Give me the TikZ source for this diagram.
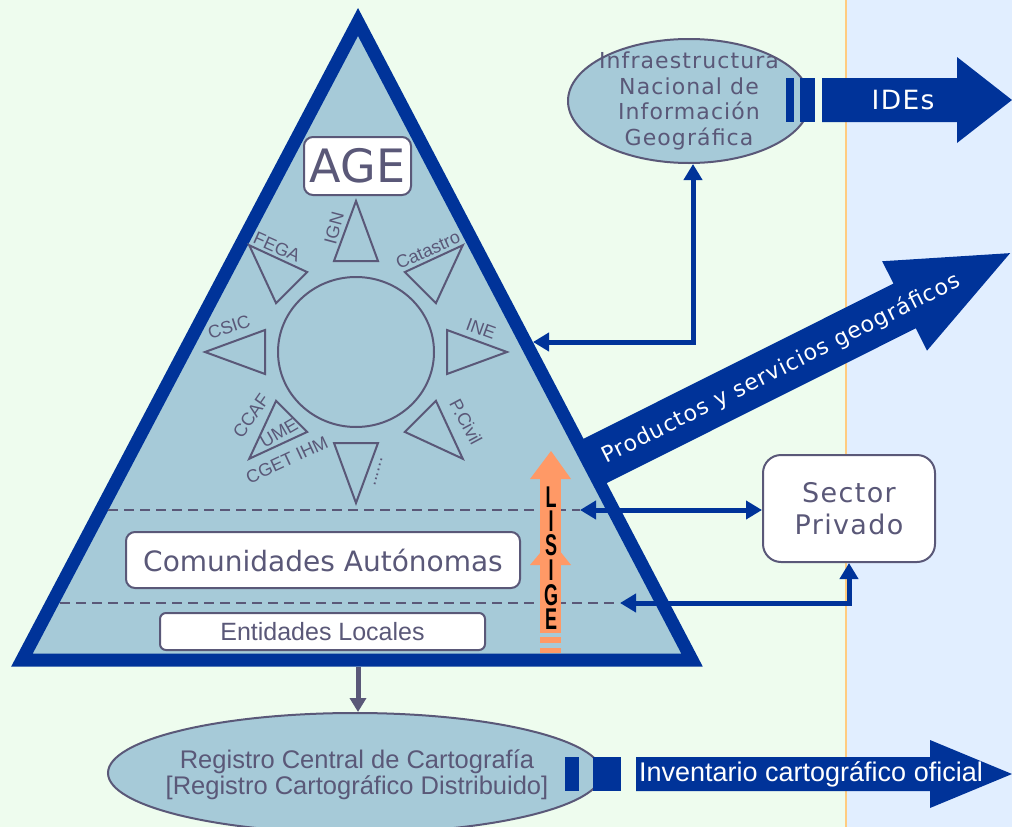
\documentclass[tikz,border=0pt]{standalone}
\usepackage{fontspec}
\setmainfont{DejaVu Sans}
\newfontfamily\wfont[LetterSpace=5]{DejaVu Sans}
\newfontfamily\nfont{Liberation Sans}
\newfontfamily\lfont[FakeStretch=0.6]{Liberation Sans}
\usetikzlibrary{arrows.meta,shapes.geometric}
\definecolor{bgL}{RGB}{238,252,238}
\definecolor{bgR}{RGB}{225,238,255}
\definecolor{sepc}{RGB}{255,204,128}
\definecolor{tfill}{RGB}{166,202,216}
\definecolor{dblue}{RGB}{0,51,153}
\definecolor{tgray}{RGB}{90,88,120}
\definecolor{orng}{RGB}{255,153,102}
\begin{document}
\begin{tikzpicture}[x=1pt,y=-1pt,
  box/.style={draw=tgray, line width=2pt, fill=white, rounded corners=9pt, inner sep=0pt, text=tgray, align=center},
  oval/.style={ellipse, draw=tgray, line width=2pt, fill=tfill, inner sep=0pt},
  otext/.style={text=tgray, align=center, inner sep=0pt},
  blink/.style={draw=dblue, line width=5pt, {Triangle[length=16pt,width=18pt]}-{Triangle[length=16pt,width=18pt]}},
  lab/.style={text=tgray, inner sep=0pt, font={\nfont\fontsize{18}{18}\selectfont}},
  dashline/.style={draw=tgray, line width=2.5pt, dash pattern=on 10pt off 6pt},
  wtext/.style={text=white, inner sep=0pt},
  lis/.style={inner sep=0pt, text=black, font={\lfont\bfseries\fontsize{30}{30}\selectfont}}
]
\useasboundingbox (0,0) rectangle (1012,827);
\clip (0,0) rectangle (1012,827);
% backgrounds
\fill[bgL] (0,0) rectangle (846,827);
\fill[bgR] (846,0) rectangle (1012,827);
\draw[sepc, line width=2pt] (846,0) -- (846,827);

% Productos arrow
\fill[dblue, shift={(589,464)}, rotate=26.6] (-8,-25) -- (353,-25) -- (353,-50) -- (471,0) -- (353,50) -- (353,25) -- (-8,25) -- cycle;
\node[wtext, rotate=26.6, font={\wfont\fontsize{22}{22}\selectfont}] (prod) at (781,369) {Productos y servicios geográficos};

% main triangle
\draw[dblue, line width=13pt, fill=tfill, line join=miter, miter limit=10] (358,22) -- (692,660) -- (22,660) -- cycle;

% sun
\node[ellipse, draw=tgray, line width=2pt, minimum width=156pt, minimum height=150pt, inner sep=0pt] (sun) at (356,352) {};
\foreach \a in {0,45,...,315}
  \draw[tgray, line width=2pt, shift={(sun.center)}, rotate=\a] (151,0) -- (91,22) -- (91,-22) -- cycle;
\node[lab, rotate=75] (lign) at (334,228) {IGN};
\node[lab, rotate=-24] (lfega) at (277,247) {FEGA};
\node[lab, rotate=24] (lcat) at (428,250) {Catastro};
\node[lab, rotate=-20] (line) at (481,329) {INE};
\node[lab, rotate=18] (lcsic) at (229,327) {CSIC};
\node[lab, rotate=-62] (lpc) at (466,422) {P.Civil};
\node[lab, rotate=55] (lccaf) at (251,416) {CCAF};
\node[lab, rotate=30] (lume) at (279,433) {UME};
\node[lab, rotate=25] (lcget) at (287,460) {CGET IHM};
\node[lab, rotate=75] (ldots) at (378,472) {......};

% boxes
\node[box, minimum width=107pt, minimum height=58pt, font={\fontsize{46}{46}\selectfont}] (age) at (357.5,166) {AGE};
\node[box, minimum width=394pt, minimum height=56pt, font={\fontsize{28}{28}\selectfont}] (ca) at (323,560) {Comunidades Autónomas};
\node[box, rounded corners=6pt, minimum width=325pt, minimum height=37pt, font={\nfont\fontsize{25}{25}\selectfont}] (el) at (322.5,631.5) {Entidades Locales};

% dashed separators
\coordinate (d1) at (580,510);
\coordinate (d1l) at (108,510);
\coordinate (d2) at (620,603);
\coordinate (d2l) at (60,603);
\draw[dashline] (d1l) -- (d1);
\draw[dashline] (d2l) -- (d2);

% LISIGE arrow
\fill[orng] (540,479) rectangle (561,633);
\fill[orng] (530,479) -- (551,451) -- (571,479) -- cycle;
\fill[orng] (530,565) -- (551,540) -- (571,565) -- cycle;
\fill[orng] (540,637) rectangle (561,643);
\fill[orng] (540,648) rectangle (561,653);
\foreach \l/\y in {L/497,I/521,S/545,I/570,G/595,E/619}
  \node[lis] (lis\y) at (551,\y) {\l};

% INIG
\node[oval, minimum width=242pt, minimum height=124pt] (inig) at (689,101) {};
\node[otext, font={\wfont\fontsize{22}{25.5}\selectfont}] (inigt) at (inig.center) {Infraestructura\\Nacional de\\Información\\Geográfica};
\fill[dblue] (786,78) rectangle (794,122);
\fill[dblue] (800,78) rectangle (815,122);
\fill[dblue] (822,78) -- (957,78) -- (957,57) -- (1012,100) -- (957,143) -- (957,122) -- (822,122) -- cycle;
\node[wtext, font={\wfont\fontsize{26.5}{26.5}\selectfont}] (ides) at (903,100) {IDEs};

% Sector privado
\node[box, rounded corners=18pt, minimum width=172pt, minimum height=107pt, font={\wfont\fontsize{27}{32}\selectfont}] (sp) at (849,508.5) {Sector\\Privado};

% connectors
\coordinate (tr) at (533,342);
\draw[blink] (tr) -| ([xshift=4pt]inig.south);
\draw[blink] (d1) -- (d1 -| sp.west);
\draw[blink] (d2) -| (sp.south);

% Registro
\node[oval, minimum width=494pt, minimum height=120pt] (rcc) at (355,773) {};
\node[otext, font={\nfont\fontsize{25.5}{26}\selectfont}] (rcct) at (357,775) {Registro Central de Cartografía\\{[}Registro Cartográfico Distribuido{]}};
\coordinate (tb) at (358,667);
\draw[tgray, line width=5pt, -{Triangle[length=14pt,width=16pt]}] (tb) -- (tb |- rcc.north);

\fill[dblue] (565,757) rectangle (579,791);
\fill[dblue] (593,757) rectangle (621,791);
\fill[dblue] (636,757) -- (930,757) -- (930,740) -- (1012,774) -- (930,808) -- (930,791) -- (636,791) -- cycle;
\node[wtext, font={\nfont\fontsize{27}{27}\selectfont}] (inv) at (811,774) {Inventario cartográfico oficial};
\end{tikzpicture}
\end{document}
